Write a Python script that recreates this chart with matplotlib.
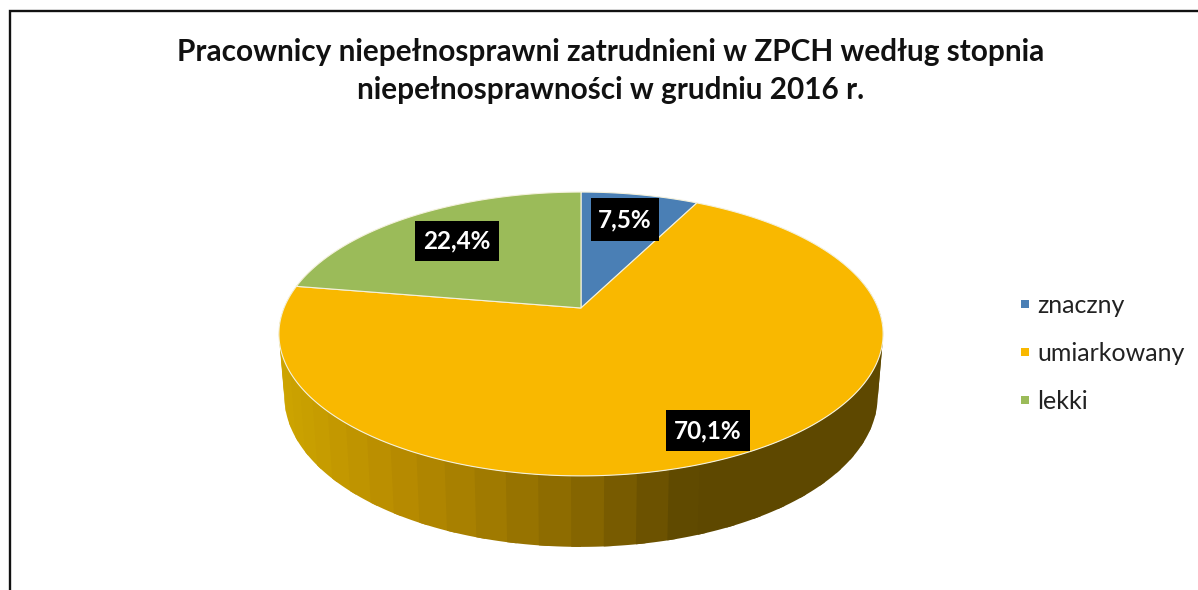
import numpy as np
import matplotlib
matplotlib.use("Agg")
import matplotlib.pyplot as plt
from matplotlib.lines import Line2D
from matplotlib.colors import to_rgb

plt.rcParams['font.family'] = ['Lato', 'DejaVu Sans']

title = "Pracownicy niepełnosprawni zatrudnieni w ZPCH według stopnia\nniepełnosprawności w grudniu 2016 r."
categories = ["znaczny", "umiarkowany", "lekki"]
values = [7.5, 70.1, 22.4]
labels = ["7,5%", "70,1%", "22,4%"]
colors = ["#4a7fb5", "#f9b800", "#9bbb59"]
label_boxes = [(591, 198, 659, 241), (666, 410, 750, 451), (415, 221, 499, 261)]

W, H = 1198, 590
CX, K, B, A, C = 581.0, 297.0, 308.0, -80.8, 0.183


def project(theta):
    """Perspective view of a point on the pie rim; theta clockwise from 12 o'clock."""
    u, v = np.sin(theta), np.cos(theta)
    d = 1 + C * v
    return CX + K * u / d, (A * v + B) / d, v


fig = plt.figure(figsize=(W / 100, H / 100), dpi=100, facecolor="white")
ax = fig.add_axes([0, 0, 1, 1])
ax.set_xlim(0, W)
ax.set_ylim(H, 0)
ax.axis("off")

# frame
ax.plot([10, 10, W + 5], [H + 5, 11, 11], color="#111111", lw=1.7, solid_joinstyle="miter", zorder=1)

# side wall: each band runs on under the next one so no seams show
x_stops = [283, 400, 500, 600, 700, 885]
c_stops = np.array([to_rgb(c) for c in ["#cda400", "#b98c00", "#a07a00", "#846400", "#5e4800", "#5e4800"]])
edges = np.linspace(np.pi * 0.42, np.pi * 1.58, 41)
step = edges[1] - edges[0]
for t0 in edges[:-1][::-1]:
    ts = np.linspace(t0, t0 + step * 1.3, 8)
    x, y, v = project(ts)
    xb = x - 0.018 * (x - CX)
    yb = y + 60 - 11 * v
    col = [np.interp(project(t0 + step / 2)[0], x_stops, c_stops[:, i]) for i in range(3)]
    ax.fill(np.r_[x, xb[::-1]], np.r_[y, yb[::-1]], color=col, lw=0, zorder=2)

# top face
fractions = np.cumsum([0] + values) / np.sum(values)
for f0, f1, col in zip(fractions[:-1], fractions[1:], colors):
    ts = np.linspace(f0, f1, 300) * 2 * np.pi
    x, y, _ = project(ts)
    ax.fill(np.r_[CX, x], np.r_[B, y], facecolor=col, edgecolor="#f4f1dc", lw=0.8, zorder=3)

# data labels
for (x0, y0, x1, y1), s in zip(label_boxes, labels):
    ax.fill([x0, x1, x1, x0], [y0, y0, y1, y1], color="black", lw=0, zorder=4)
    ax.text((x0 + x1) / 2, (y0 + y1) / 2, s, color="white", fontsize=17.5, fontweight="bold",
            ha="center", va="center", zorder=5)

# title
ax.text(611, 71, title, ha="center", va="center", fontsize=21.4, fontweight="bold",
        color="#111111", linespacing=1.45, zorder=5)

# legend
handles = [Line2D([], [], ls="", marker="s", ms=6, color=c, mew=0) for c in colors]
ax.legend(handles, categories, loc="upper left", bbox_to_anchor=(1017 / W, 1 - 294 / H),
          bbox_transform=ax.transAxes, frameon=False, fontsize=18, labelspacing=1.0,
          handlelength=0.65, handletextpad=0.15, labelcolor="#222222", borderpad=0, borderaxespad=0)

fig.savefig("out.png", dpi=100)
